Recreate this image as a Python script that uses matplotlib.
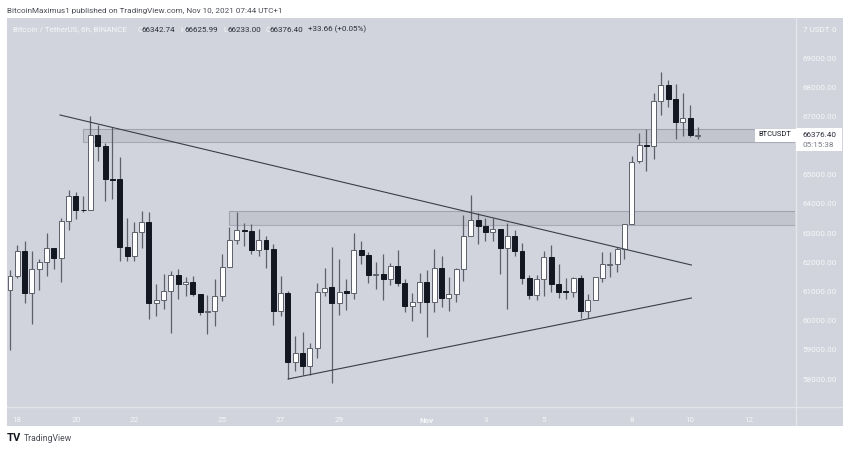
import numpy as np
import matplotlib
matplotlib.use('Agg')
import matplotlib.pyplot as plt
from matplotlib.patches import Rectangle

# 6h candles
opens = [61043, 61545, 62379, 60963, 61762, 62025, 62493, 62139, 63429, 64285, 63806, 63794,
	66374, 65997, 64856, 64844, 62516, 62207, 63029, 63383, 60609, 60712, 61020, 61580,
	61248, 61317, 60917, 60301, 60347, 60861, 61854, 62767, 63110, 63087, 62413, 62756,
	62470, 60347, 60941, 58589, 58908, 58440, 59080, 60975, 61146, 60609, 61020, 60963,
	62413, 62265, 61569, 61603, 61431, 61877, 61306, 60495, 60644, 61317, 60643, 61819,
	60792, 60929, 61762, 62915, 63463, 63246, 63052, 63132, 62481, 62915, 62390, 61465,
	60872, 61420, 62196, 61271, 61009, 60974, 61454, 60335, 60712, 61477, 61922, 61933,
	62447, 63303, 65461, 66031, 65986, 67527, 68086, 67607, 66819, 66945, 66342.74]
highs = [61739, 62595, 62721, 62401, 62116, 63018, 62500, 63509, 64491, 64399, 64274, 67014,
	66717, 66077, 66648, 65621, 63520, 63383, 63749, 63726, 61260, 61602, 61694, 61762,
	61488, 61534, 60917, 60872, 61420, 62276, 63201, 63715, 63361, 63315, 63132, 62904,
	62619, 61523, 61020, 59479, 59616, 59251, 61283, 61820, 62516, 62116, 61443, 62995,
	62733, 62367, 62002, 62276, 61968, 62425, 61420, 60941, 61625, 61740, 62447, 62219,
	61488, 61796, 63611, 64296, 63680, 63520, 63509, 63132, 63360, 63109, 62652, 61568,
	61556, 62401, 62607, 61945, 61454, 61488, 61568, 60906, 61500, 62344, 62355, 62515,
	63303, 65643, 66419, 66556, 67789, 68509, 68246, 68109, 67812, 67378, 66625.99]
lows = [59000, 61454, 60620, 59878, 61054, 61545, 61773, 61340, 63098, 63497, 63714, 63794,
	65484, 64091, 64171, 62036, 62036, 62036, 62481, 60050, 60164, 60392, 59593, 60746,
	60849, 60849, 60187, 59559, 59822, 60678, 61854, 62619, 62562, 62299, 62219, 61820,
	59856, 60176, 57995, 58292, 58144, 58144, 58737, 60849, 57858, 60210, 60370, 60735,
	61957, 61306, 61089, 60724, 61226, 61192, 60313, 59993, 60255, 59456, 60312, 60483,
	60346, 60655, 61374, 62915, 62618, 62744, 62744, 61614, 60415, 62219, 61248, 60757,
	60712, 60849, 60997, 60769, 60746, 60826, 60107, 60084, 60712, 61340, 61499, 61682,
	62116, 63303, 65392, 65141, 65529, 67047, 67333, 66237, 66328, 66283, 66233.00]
closes = [61545, 62379, 60963, 61762, 62025, 62493, 62139, 63429, 64285, 63794, 63783, 66374,
	65997, 64844, 64833, 62516, 62219, 63029, 63383, 60609, 60723, 61020, 61580, 61260,
	61317, 60917, 60301, 60347, 60861, 61854, 62767, 63098, 63087, 62413, 62756, 62470,
	60347, 60941, 58589, 58908, 58440, 59080, 60975, 61135, 60609, 60998, 60963, 62413,
	62265, 61580, 61614, 61431, 61877, 61306, 60495, 60644, 61317, 60643, 61819, 60780,
	60917, 61762, 62915, 63463, 63246, 63041, 63132, 62481, 62915, 62390, 61465, 60883,
	61420, 62196, 61271, 60997, 60974, 61454, 60335, 60712, 61488, 61956, 61956, 62447,
	63303, 65449, 66031, 65986, 67527, 68086, 67607, 66819, 66945, 66351, 66376.40]

price_ticks = [58000, 59000, 60000, 61000, 62000, 63000, 64000, 65000, 67000, 68000, 69000]
date_ticks = [1, 9, 17, 29, 37, 45, 57, 65, 73, 85, 93, 101]
date_labels = ['18', '20', '22', '25', '27', '29', 'Nov', '3', '5', '8', '10', '12']

# support / resistance boxes: start candle, bottom, top
zones = [(9.95, 66123, 66558), (30, 63270, 63760)]
# trend lines: candle index pairs and prices
line_down_x = [6.84, 93.16]
line_down_y = [67048, 61910]
line_up_x = [38.03, 93.16]
line_up_y = [58006, 60780]

W, H = 850, 450
BG = '#d1d4dc'
DARK = '#131722'
WICK = '#5d606b'
PALE = '#f6f7f9'
FONT = 'Roboto'
TXT = 5.9

plt.rcParams['font.family'] = FONT

fig = plt.figure(figsize=(W / 100, H / 100), dpi=100, facecolor='white')

# full pane incl. price and date scales
pane = fig.add_axes([7 / W, 1 - 426 / H, 836 / W, 408 / H])
pane.set_facecolor(BG)
pane.set_xlim(7, 843)
pane.set_ylim(426, 18)
pane.set_xticks([])
pane.set_yticks([])
for s in pane.spines.values():
	s.set_visible(False)
pane.axvline(795.5, color='#e3e5eb', lw=1)
pane.axhline(407, color='#e3e5eb', lw=1)

ax = fig.add_axes([7 / W, 1 - 407 / H, 788.5 / W, 389 / H])
ax.set_facecolor('none')
ax.set_xlim(-0.41, 107.39)
ax.set_ylim(57047, 70370)
for s in ax.spines.values():
	s.set_visible(False)
ax.yaxis.tick_right()
ax.tick_params(length=0, pad=5)
ax.set_yticks(price_ticks)
ax.set_yticklabels(['%.2f' % p for p in price_ticks], fontsize=TXT, color=PALE)
ax.set_xticks(date_ticks)
ax.set_xticklabels(date_labels, fontsize=TXT, color=PALE)
ax.xaxis.get_ticklabels()[6].set_fontweight('bold')
ax.tick_params(axis='x', pad=7)

for start, bottom, top in zones:
	ax.add_patch(Rectangle((start, bottom), 108 - start, top - bottom, facecolor='#787b86',
		alpha=0.16, edgecolor='none', zorder=1))
	ax.add_patch(Rectangle((start, bottom), 108 - start, top - bottom, facecolor='none',
		alpha=0.45, edgecolor='#787b86', linewidth=0.8, zorder=1))

ax.plot(line_down_x, line_down_y, color='#3a3e49', lw=0.8, zorder=4)
ax.plot(line_up_x, line_up_y, color='#3a3e49', lw=0.8, zorder=4)

idx = np.arange(len(opens))
o, h, l, c = map(np.array, (opens, highs, lows, closes))
ax.vlines(idx, l, h, color=WICK, lw=0.9, zorder=2)
up = c >= o
ax.bar(idx[up], (c - o)[up], bottom=o[up], width=0.68, color='white', edgecolor=WICK, linewidth=0.7, zorder=3)
ax.bar(idx[~up], (c - o)[~up], bottom=o[~up], width=0.68, color=DARK, edgecolor=DARK, linewidth=0.7, zorder=3)

# last price tags
last = closes[-1]
fig.patches.append(Rectangle((755 / W, 1 - 141.5 / H), 41 / W, 13 / H, transform=fig.transFigure, facecolor='white', edgecolor='none'))
fig.patches.append(Rectangle((796 / W, 1 - 151 / H), 46 / W, 22.5 / H, transform=fig.transFigure, facecolor='white', edgecolor='none'))
fig.text(758 / W, 1 - 135 / H, 'BTCUSDT', fontsize=5.4, color=DARK, va='center')
fig.text(802.5 / W, 1 - 135 / H, '%.2f' % last, fontsize=TXT, color='#2a2e39', va='center')
fig.text(802.5 / W, 1 - 145 / H, '05:15:38', fontsize=TXT, color='#787b86', va='center')

# header texts
fig.text(7 / W, 1 - 10.5 / H, 'BitcoinMaximus1 published on TradingView.com, Nov 10, 2021 07:44 UTC+1',
	fontsize=5.85, color='#4a4d55', va='center')
legend_y = 1 - 29.5 / H
fig.text(13 / W, legend_y, 'Bitcoin / TetherUS, 6h, BINANCE', fontsize=5.8, color=PALE, va='center')
for x_px, letter, val in [(137, 'O', '66342.74'), (180, 'H', '66625.99'), (223, 'L', '66233.00'), (265, 'C', '66376.40')]:
	fig.text(x_px / W, legend_y, letter, fontsize=5.8, color=PALE, va='center')
	fig.text((x_px + 4.5) / W, legend_y, val, fontsize=5.8, color='#2a2e39', va='center')
fig.text(308 / W, legend_y, '+33.66 (+0.05%)', fontsize=5.8, color='#2a2e39', va='center')
fig.text(803 / W, legend_y, '7 USDT', fontsize=TXT, color=PALE, va='center')
fig.text(832 / W, legend_y, '0', fontsize=TXT, color=PALE, va='center')

# logo text
fig.text(7 / W, 1 - 438 / H, 'TV', fontsize=8, color=DARK, fontweight='bold', va='center')
fig.text(23.5 / W, 1 - 438.5 / H, 'TradingView', fontsize=6.2, color='#4a4d55', va='center')

fig.savefig('out.png', dpi=100, facecolor='white')
